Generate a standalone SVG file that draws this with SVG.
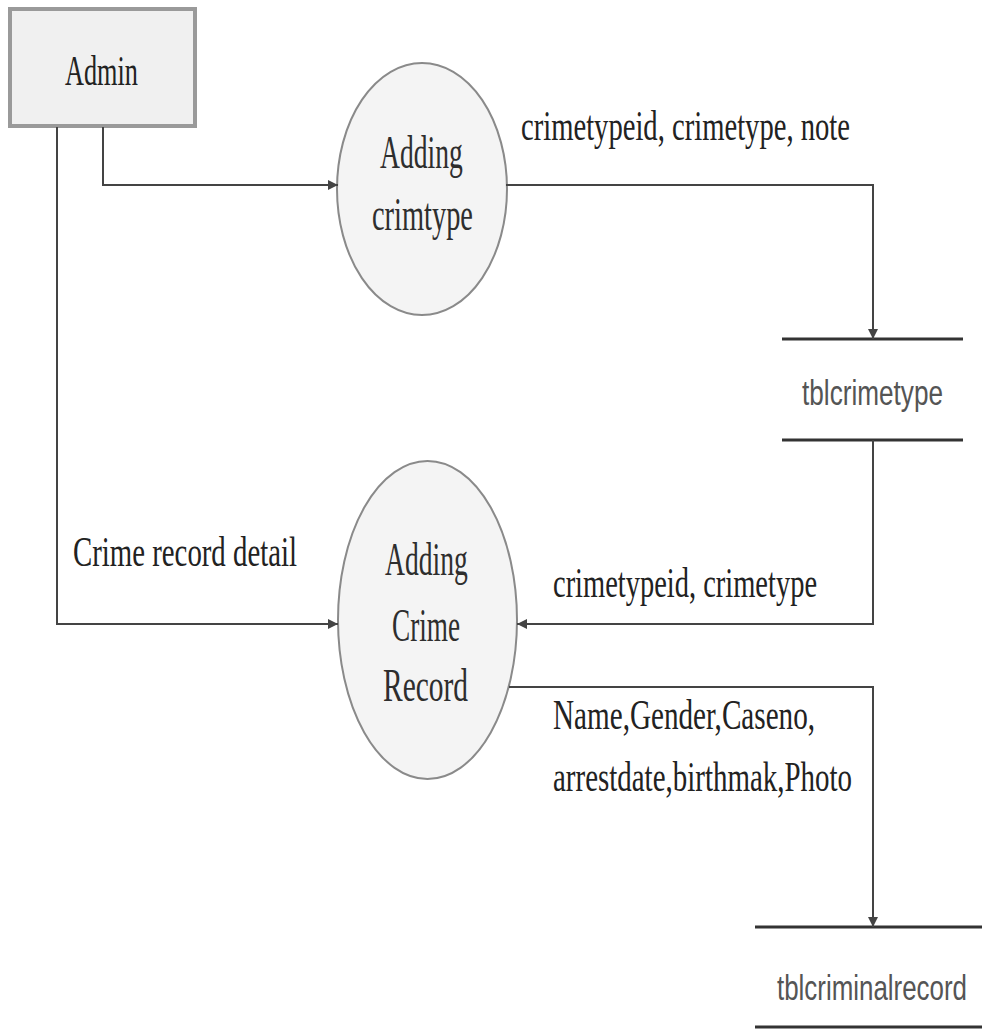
<svg xmlns="http://www.w3.org/2000/svg" width="982" height="1030" viewBox="0 0 982 1030">
  <style>
    .lbl { font-family: "Liberation Serif", "Times New Roman", serif; font-size: 42px; fill: #222; }
    .proc { font-family: "Liberation Serif", "Times New Roman", serif; font-size: 46px; fill: #2e2e2e; }
    .store-txt { font-family: "Liberation Sans", Arial, sans-serif; font-size: 36px; fill: #555; }
    .store-line { stroke: #333; stroke-width: 3; }
    .flow { fill: none; stroke: #444; stroke-width: 2; }
    .bubble { fill: #f4f4f4; stroke: #8a8a8a; stroke-width: 2; }
  </style>
  <defs>
    <marker id="arrow" viewBox="0 0 10 10" refX="10" refY="5" markerWidth="11" markerHeight="10" markerUnits="userSpaceOnUse" orient="auto">
      <path d="M0,0 L10,5 L0,10 Z" fill="#444"/>
    </marker>
  </defs>
  <rect width="982" height="1030" fill="#fff"/>

  <!-- external entity -->
  <g id="admin">
    <rect x="10" y="9" width="185" height="117" fill="#f0f0f0" stroke="#9a9a9a" stroke-width="4"/>
    <text class="lbl" transform="translate(65,85) scale(0.625,1)" textLength="116.8" lengthAdjust="spacingAndGlyphs">Admin</text>
  </g>

  <!-- processes -->
  <g id="adding-crimtype">
    <ellipse class="bubble" cx="422" cy="189" rx="85" ry="126"/>
    <text class="proc" transform="translate(380,168) scale(0.6,1)" textLength="138" lengthAdjust="spacingAndGlyphs">Adding</text>
    <text class="proc" transform="translate(372,230) scale(0.618,1)" textLength="163.4" lengthAdjust="spacingAndGlyphs">crimtype</text>
  </g>

  <g id="adding-crime-record">
    <ellipse class="bubble" cx="427.5" cy="620" rx="89.5" ry="159"/>
    <text class="proc" transform="translate(385,575) scale(0.6,1)" textLength="138" lengthAdjust="spacingAndGlyphs">Adding</text>
    <text class="proc" transform="translate(392,641) scale(0.59,1)" textLength="115.3" lengthAdjust="spacingAndGlyphs">Crime</text>
    <text class="proc" transform="translate(383,701) scale(0.64,1)" textLength="132.8" lengthAdjust="spacingAndGlyphs">Record</text>
  </g>

  <!-- data stores -->
  <g id="tblcrimetype">
    <line class="store-line" x1="782" y1="339" x2="963" y2="339"/>
    <line class="store-line" x1="782" y1="440" x2="963" y2="440"/>
    <text class="store-txt" transform="translate(802,405) scale(0.727,1)" textLength="194" lengthAdjust="spacingAndGlyphs">tblcrimetype</text>
  </g>

  <g id="tblcriminalrecord">
    <line class="store-line" x1="755" y1="927" x2="982" y2="927"/>
    <line class="store-line" x1="755" y1="1027" x2="982" y2="1027"/>
    <text class="store-txt" transform="translate(777,1000) scale(0.72,1)" textLength="263.9" lengthAdjust="spacingAndGlyphs">tblcriminalrecord</text>
  </g>

  <!-- data flows -->
  <g id="connectors">
    <path class="flow" d="M103,127 V185 H338" marker-end="url(#arrow)"/>
    <path class="flow" d="M57,127 V624 H338" marker-end="url(#arrow)"/>
    <path class="flow" d="M506,185 H873 V339" marker-end="url(#arrow)"/>
    <path class="flow" d="M873,440 V624 H517" marker-end="url(#arrow)"/>
    <path class="flow" d="M509,687 H873 V927" marker-end="url(#arrow)"/>

    <text class="lbl" transform="translate(521,140) scale(0.681,1)" textLength="483.1" lengthAdjust="spacingAndGlyphs">crimetypeid, crimetype, note</text>
    <text class="lbl" transform="translate(73,566) scale(0.686,1)" textLength="326.5" lengthAdjust="spacingAndGlyphs">Crime record detail</text>
    <text class="lbl" transform="translate(553,597) scale(0.678,1)" textLength="389.4" lengthAdjust="spacingAndGlyphs">crimetypeid, crimetype</text>
    <text class="lbl" transform="translate(553,729) scale(0.691,1)" textLength="379.2" lengthAdjust="spacingAndGlyphs">Name,Gender,Caseno,</text>
    <text class="lbl" transform="translate(553,791) scale(0.689,1)" textLength="434" lengthAdjust="spacingAndGlyphs">arrestdate,birthmak,Photo</text>
  </g>
</svg>
